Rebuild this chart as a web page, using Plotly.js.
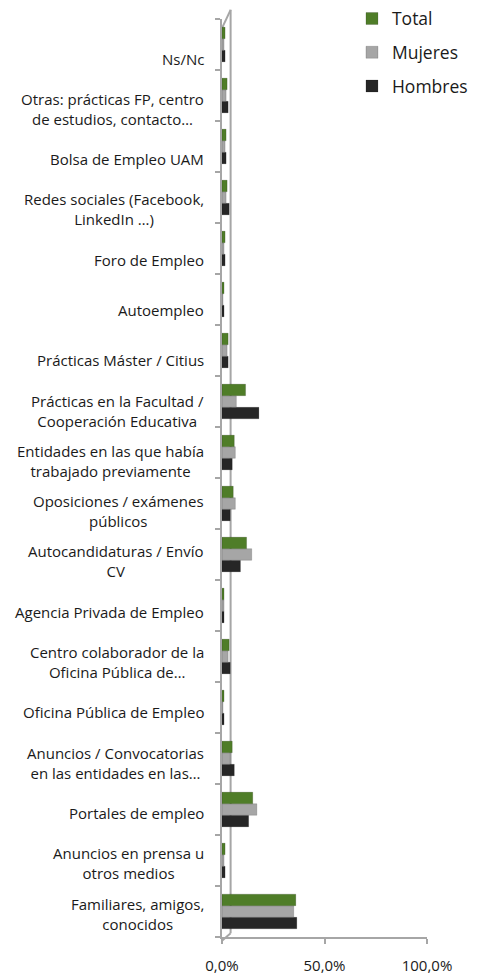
<!DOCTYPE html>
<html>
<head>
<meta charset="utf-8">
<script src="https://cdn.plot.ly/plotly-3.0.1.min.js"></script>
<style>
  html, body { margin: 0; padding: 0; background: #fff; }
  #chart { width: 486px; height: 978px; }
</style>
</head>
<body>
<div id="chart"></div>
<script>
// categories, bottom to top
const categories = [
  'Familiares, amigos,<br>conocidos',
  'Anuncios en prensa u<br>otros medios',
  'Portales de empleo',
  'Anuncios / Convocatorias<br>en las entidades en las…',
  'Oficina Pública de Empleo',
  'Centro colaborador de la<br>Oficina Pública de…',
  'Agencia Privada de Empleo',
  'Autocandidaturas / Envío<br>CV',
  'Oposiciones / exámenes<br>públicos',
  'Entidades en las que había<br>trabajado previamente',
  'Prácticas en la Facultad /<br>Cooperación Educativa',
  'Prácticas Máster / Citius',
  'Autoempleo',
  'Foro de Empleo',
  'Redes sociales (Facebook,<br>LinkedIn …)',
  'Bolsa de Empleo UAM',
  'Otras: prácticas FP, centro<br>de estudios, contacto…',
  'Ns/Nc'
];

const hombres = [36.5, 1.5, 13, 6, 1, 4, 1, 9, 4, 5, 18, 3, 1, 1.5, 3.5, 2, 3, 1.5];
const mujeres = [35, 1, 17, 4, 0.5, 3, 1, 14.5, 6.5, 6.5, 7, 2.5, 0.5, 1, 2, 1.5, 2, 1];
const total   = [36, 1.5, 15, 5, 1, 3.5, 1, 12, 5.5, 6, 11.5, 3, 1, 1.5, 2.5, 2, 2.5, 1.5];

const xTicks = [0, 50, 100];

const COLORS = { total: '#4f7d28', mujeres: '#a6a6a6', hombres: '#262626' };

const keys = categories.map((c, i) => 'c' + i);

function barTrace(name, values, color, rank) {
  return {
    type: 'bar',
    orientation: 'h',
    name,
    legendgroup: name,
    legendrank: rank,
    x: values,
    y: keys,
    marker: { color, line: { color: 'rgba(0,0,0,0.25)', width: 0.6 } },
    hoverinfo: 'x+name',
  };
}

const traces = [
  barTrace('Hombres', hombres, COLORS.hombres, 3),
  barTrace('Mujeres', mujeres, COLORS.mujeres, 2),
  barTrace('Total', total, COLORS.total, 1),
];

// category labels, centred lines like the original; the 3D view lifts
// the bars a little more towards the top, so the labels drift down
const annotations = categories.map((c, i) => ({
  xref: 'paper', yref: 'y',
  x: -0.08, y: keys[i],
  xanchor: 'right', yanchor: 'middle',
  yshift: -(2 + 12 * i / 17),
  text: c,
  align: 'center',
  showarrow: false,
  font: { family: 'Open Sans', size: 15, color: '#1a1a1a' },
}));

const layout = {
  width: 486,
  height: 978,
  margin: { t: 19, r: 59, b: 41, l: 222, autoexpand: false },
  paper_bgcolor: '#fff',
  plot_bgcolor: '#fff',
  separators: ',.',
  barmode: 'group',
  bargap: 0.32,
  bargroupgap: 0,
  font: { family: 'Open Sans', size: 13, color: '#1a1a1a' },
  showlegend: true,
  legend: {
    x: 0.634, y: 1.02, xanchor: 'left', yanchor: 'top',
    traceorder: 'grouped',
    font: { family: 'Open Sans', size: 17.5, color: '#1a1a1a' },
    itemwidth: 30,
    tracegroupgap: 8,
    bgcolor: 'rgba(0,0,0,0)',
  },
  xaxis: {
    range: [0, 100],
    tickvals: xTicks,
    ticktext: xTicks.map(v => v.toFixed(1).replace('.', ',') + '%'),
    ticks: 'outside',
    ticklen: 5,
    ticklabelstandoff: 9,
    tickcolor: '#a6a6a6',
    tickwidth: 2,
    showgrid: false,
    zeroline: false,
    showline: true,
    linecolor: '#a6a6a6',
    linewidth: 2,
    tickfont: { family: 'Open Sans', size: 15, color: '#1a1a1a' },
    fixedrange: true,
  },
  yaxis: {
    type: 'category',
    categoryorder: 'array',
    categoryarray: keys,
    showticklabels: false,
    ticks: 'outside',
    tickson: 'boundaries',
    ticklen: 5,
    tickcolor: '#a6a6a6',
    tickwidth: 2,
    showgrid: false,
    zeroline: false,
    showline: true,
    linecolor: '#a6a6a6',
    linewidth: 2,
    fixedrange: true,
  },
  shapes: [
    // back wall edge of the 3D frame, drawn behind the bars
    { type: 'line', layer: 'below', xref: 'paper', yref: 'paper', x0: 0.042, x1: 0.042, y0: 0.004, y1: 1.01,
      line: { color: '#a6a6a6', width: 2 } },
    { type: 'line', layer: 'below', xref: 'paper', yref: 'paper', x0: 0, x1: 0.042, y0: 0.99, y1: 1.01,
      line: { color: '#a6a6a6', width: 2 } },
    { type: 'line', layer: 'below', xref: 'paper', yref: 'paper', x0: 0, x1: 0.042, y0: -0.004, y1: 0.004,
      line: { color: '#a6a6a6', width: 2 } },
  ],
  annotations,
};

Plotly.newPlot('chart', traces, layout, { displayModeBar: false, staticPlot: true });
</script>
</body>
</html>
